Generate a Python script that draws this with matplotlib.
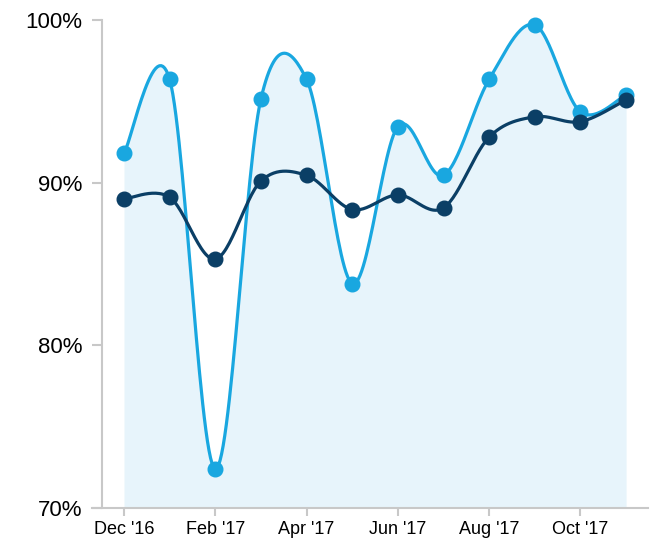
import numpy as np
import matplotlib.pyplot as plt

plt.rcParams['font.family'] = ['Liberation Sans', 'DejaVu Sans']

# months Dec '16 .. Nov '17
months = ["Dec '16", "Jan '17", "Feb '17", "Mar '17", "Apr '17", "May '17",
          "Jun '17", "Jul '17", "Aug '17", "Sep '17", "Oct '17", "Nov '17"]
light = [91.8, 96.35, 72.4, 95.15, 96.35, 83.8, 93.45, 90.45, 96.35, 99.7, 94.35, 95.4]
dark = [89.0, 89.1, 85.3, 90.1, 90.45, 88.35, 89.25, 88.45, 92.8, 94.05, 93.75, 95.1]
tick_idx = [0, 2, 4, 6, 8, 10]
yticks = [70, 80, 90, 100]

c_light = '#19a7e0'
c_dark = '#0b3f66'
c_fill = '#e7f4fb'
c_axis = '#c8c8c8'


def catmull(xs, ys, n=30):
    # cardinal spline, tension 0, end points duplicated
    xs = np.asarray(xs, float)
    ys = np.asarray(ys, float)
    px = np.concatenate([[xs[0]], xs, [xs[-1]]])
    py = np.concatenate([[ys[0]], ys, [ys[-1]]])
    ox, oy = [], []
    t = np.linspace(0, 1, n)
    h00 = 2 * t**3 - 3 * t**2 + 1
    h10 = t**3 - 2 * t**2 + t
    h01 = -2 * t**3 + 3 * t**2
    h11 = t**3 - t**2
    for i in range(1, len(px) - 2):
        m0x = (px[i + 1] - px[i - 1]) / 2
        m1x = (px[i + 2] - px[i]) / 2
        m0y = (py[i + 1] - py[i - 1]) / 2
        m1y = (py[i + 2] - py[i]) / 2
        ox.extend(h00 * px[i] + h10 * m0x + h01 * px[i + 1] + h11 * m1x)
        oy.extend(h00 * py[i] + h10 * m0y + h01 * py[i + 1] + h11 * m1y)
    return np.array(ox), np.array(oy)


x = np.arange(len(months))

fig = plt.figure(figsize=(6.55, 5.41), dpi=100)
ax = fig.add_axes([92 / 655, 33 / 541, 556 / 655, 488 / 541])

lx, ly = catmull(x, light)
dx, dy = catmull(x, dark)

ax.fill_between(lx, ly, 70, color=c_fill, lw=0, zorder=1)
ax.plot(lx, ly, color=c_light, lw=2.3, zorder=3, solid_capstyle='round')
ax.plot(x, light, 'o', color=c_light, ms=10.5, zorder=4, clip_on=False)
ax.plot(dx, dy, color=c_dark, lw=2.3, zorder=5, solid_capstyle='round')
ax.plot(x, dark, 'o', color=c_dark, ms=10.5, zorder=6, clip_on=False)

ax.set_xlim(-0.701, 11.48)
ax.set_ylim(70, 100)

ax.spines['top'].set_visible(False)
ax.spines['right'].set_visible(False)
ax.spines['left'].set_position(('data', -0.482))
for s in ('left', 'bottom'):
    ax.spines[s].set_color(c_axis)
    ax.spines[s].set_linewidth(1.5)

ax.set_yticks(yticks)
ax.set_yticklabels([f'{v}%' for v in yticks], fontsize=16)
ax.set_xticks(tick_idx)
ax.set_xticklabels([months[i] for i in tick_idx], fontsize=13)
ax.tick_params(axis='y', length=7, width=1.5, color=c_axis, pad=7)
ax.tick_params(axis='x', length=6, width=1.5, color=c_axis, pad=3)

fig.savefig('out.png', dpi=100)
